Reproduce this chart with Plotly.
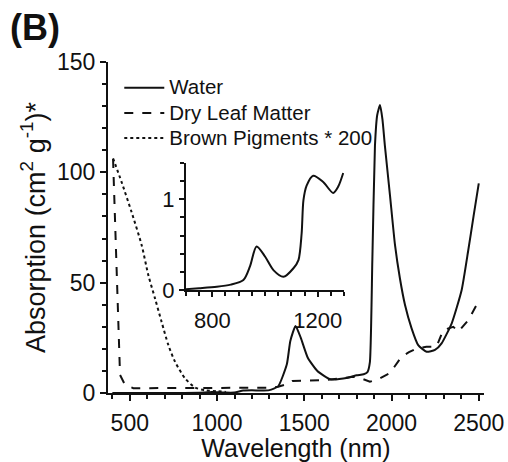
import plotly.graph_objects as go

# ---- data ----
wl_water = [400, 500, 600, 700, 800, 900, 950, 970, 1000, 1050, 1100, 1150, 1200, 1250, 1300,
            1350, 1400, 1420, 1450, 1480, 1520, 1575, 1650, 1750, 1800, 1840, 1862, 1876, 1890,
            1905, 1918, 1934, 1948, 1962, 1991, 2020, 2048, 2077, 2115, 2153, 2201, 2249, 2287,
            2345, 2402, 2440, 2470, 2500]
water = [0.0, 0.0, 0.0, 0.01, 0.02, 0.07, 0.3, 0.48, 0.37, 0.17, 0.2, 1.1, 1.24, 1.1, 1.29,
         3, 13, 23.6, 30.4, 25, 16, 10, 6.2, 6.9, 8, 8.5, 9.5, 14, 60,
         112, 126, 130.5, 124, 112, 89.7, 67, 52, 40, 29.3, 21.7, 18.7, 19.5, 22.5,
         31.6, 46.7, 64.8, 80, 95]

wl_dry = [404, 425, 435, 444, 473, 520, 600, 800, 1000, 1200, 1300, 1350, 1400, 1431,
          1500, 1600, 1700, 1781, 1830, 1876, 1930, 1991, 2058, 2100, 2144, 2200, 2258, 2296,
          2354, 2383, 2440, 2488, 2500]
dry = [106, 59, 34, 8.2, 3.6, 2.2, 2.2, 2.2, 2.2, 2.2, 2.4, 2.8, 4, 5.4,
       5.5, 5.8, 6.5, 7.4, 6.5, 5.1, 6.5, 9, 16.5, 18.5, 20.2, 21, 21, 28.5,
       30, 27.8, 33, 40, 40.5]

wl_brown = [404, 452, 510, 568, 606, 644, 682, 721, 759, 817, 874, 931, 1000, 1050]
brown = [106.3, 95.8, 82, 67, 53.5, 43, 32.3, 21.7, 14.2, 6.6, 2.5, 1.2, 0.8, 0.5]

wl_inset = [700, 750, 817, 870, 918, 943, 968, 1000, 1032, 1070, 1108, 1127, 1139, 1146,
            1158, 1183, 1221, 1259, 1278, 1297]
water_inset = [0.01, 0.02, 0.036, 0.06, 0.11, 0.26, 0.48, 0.37, 0.22, 0.146, 0.24, 0.33, 0.62, 0.99,
               1.15, 1.26, 1.19, 1.07, 1.14, 1.29]

series_names = ["Water", "Dry Leaf Matter", "Brown Pigments * 200"]
x_ticks = [500, 1000, 1500, 2000, 2500]
y_ticks = [0, 50, 100, 150]
inset_x_ticks = [800, 1200]
inset_y_ticks = [0, 1]

FONT = "Liberation Sans, Arial, sans-serif"
BLACK = "#111111"


def legend_label(name):
    return "<span style='font-size:20.5px'>" + name + "</span>"


fig = go.Figure()
fig.add_trace(go.Scatter(x=wl_water, y=water, name=legend_label(series_names[0]), mode="lines",
                         line=dict(color=BLACK, width=2, shape="spline", smoothing=0.5)))
fig.add_trace(go.Scatter(x=wl_dry, y=dry, name=legend_label(series_names[1]), mode="lines",
                         line=dict(color=BLACK, width=2, dash="dash")))
fig.add_trace(go.Scatter(x=wl_brown, y=brown, name=legend_label(series_names[2]), mode="lines",
                         line=dict(color=BLACK, width=2, dash="dot", shape="spline", smoothing=0.7)))
fig.add_trace(go.Scatter(x=wl_inset, y=water_inset, mode="lines", showlegend=False,
                         xaxis="x2", yaxis="y2",
                         line=dict(color=BLACK, width=2, shape="spline", smoothing=0.8)))

axis_common = dict(showline=True, linecolor=BLACK, linewidth=2, ticks="outside",
                   tickcolor=BLACK, tickwidth=2, showgrid=False, zeroline=False, mirror=False,
                   automargin=False)

fig.update_layout(
    width=508, height=462,
    margin=dict(l=108, r=24, t=62, b=69),
    paper_bgcolor="white", plot_bgcolor="white",
    font=dict(family=FONT, color=BLACK),
    xaxis=dict(**axis_common, range=[375, 2530], tickvals=x_ticks, ticklen=6,
               tickfont=dict(size=23), ticklabelstandoff=2,
               minor=dict(dtick=100, tick0=0, ticklen=4, ticks="outside", tickcolor=BLACK, tickwidth=1.5),
               title=dict(text="Wavelength (nm)", font=dict(size=25), standoff=8)),
    yaxis=dict(**axis_common, range=[0, 150], tickvals=y_ticks, ticklen=6,
               tickfont=dict(size=23),
               minor=dict(dtick=10, tick0=0, ticklen=4, ticks="outside", tickcolor=BLACK, tickwidth=1.5),
               title=dict(text="Absorption (cm<sup>2</sup> g<sup>-1</sup>)*", font=dict(size=27), standoff=4)),
    xaxis2=dict(**axis_common, domain=[0.2074, 0.6277], anchor="y2", range=[700, 1300],
                tickvals=inset_x_ticks, ticklen=5, tickfont=dict(size=22), ticklabelstandoff=5,
                minor=dict(dtick=50, tick0=0, ticklen=4, ticks="outside", tickcolor=BLACK, tickwidth=1.5)),
    yaxis2=dict(**axis_common, domain=[0.311, 0.695], anchor="x2", range=[0, 1.4],
                tickvals=inset_y_ticks, ticklen=5, tickfont=dict(size=22),
                minor=dict(dtick=0.2, tick0=0, ticklen=4, ticks="outside", tickcolor=BLACK, tickwidth=1.5)),
    legend=dict(x=0.03, y=0.975, xanchor="left", yanchor="top", bgcolor="rgba(0,0,0,0)",
                font=dict(size=17), tracegroupgap=0, itemwidth=40),
    annotations=[dict(text="<b>(B)</b>", xref="paper", yref="paper", x=-0.265, y=1.105,
                      xanchor="left", yanchor="middle", showarrow=False,
                      font=dict(size=36, family=FONT, color=BLACK))],
)

fig.write_html("out.html")
